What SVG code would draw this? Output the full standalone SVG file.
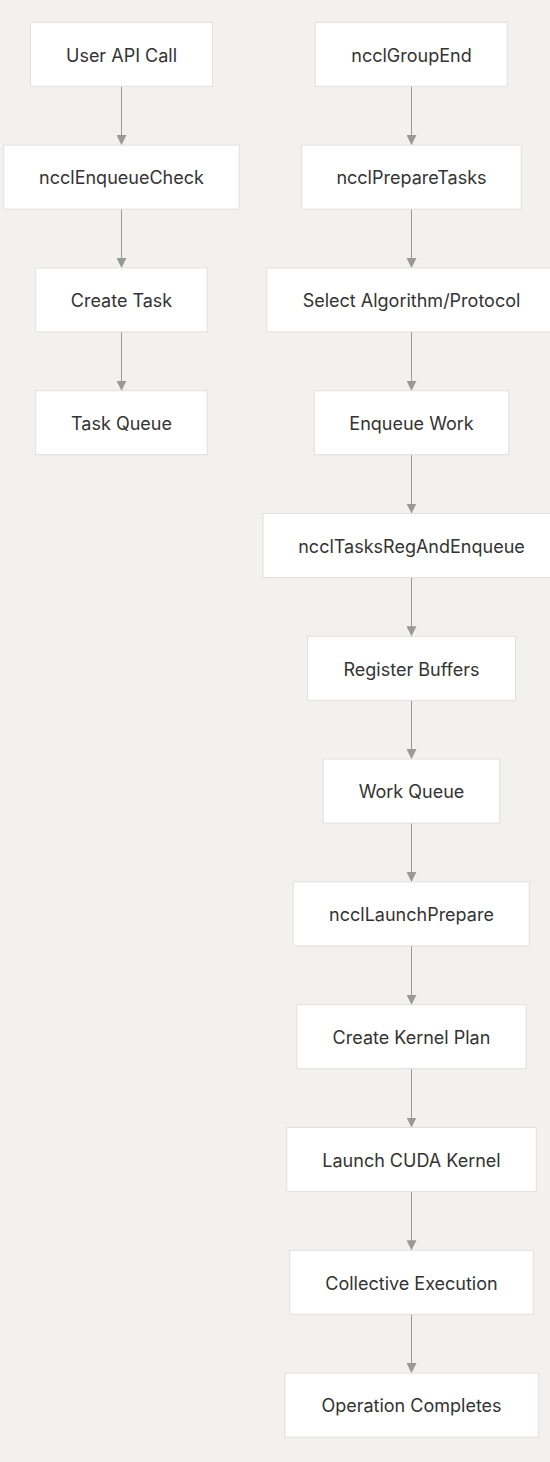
<svg xmlns="http://www.w3.org/2000/svg" width="550" height="1462" viewBox="0 0 550 1462">
<defs>
<marker id="arr" viewBox="0 0 10 10" refX="10" refY="5" markerWidth="10" markerHeight="10" markerUnits="userSpaceOnUse" orient="auto">
<path d="M0,0 L10,5 L0,10 z" fill="#999"/>
</marker>
<style>
.n rect{fill:#fff;stroke:#e0e0e0;stroke-width:1}
.n text{font-family:Inter,"Noto Sans","Liberation Sans",sans-serif;font-size:18px;font-weight:400;fill:#333;text-anchor:middle;dominant-baseline:central}
.e line{stroke:#999;stroke-width:1;marker-end:url(#arr)}
</style>
</defs>
<rect width="550" height="1462" fill="#f2f1ef"/>
<g class="e" id="connectors">
<line x1="121.5" y1="86.3" x2="121.5" y2="145.1"/>
<line x1="121.5" y1="209.1" x2="121.5" y2="267.9"/>
<line x1="121.5" y1="331.9" x2="121.5" y2="390.7"/>
<line x1="411.5" y1="86.3" x2="411.5" y2="145.1"/>
<line x1="411.5" y1="209.1" x2="411.5" y2="267.9"/>
<line x1="411.5" y1="331.9" x2="411.5" y2="390.7"/>
<line x1="411.5" y1="454.7" x2="411.5" y2="513.5"/>
<line x1="411.5" y1="577.5" x2="411.5" y2="636.3"/>
<line x1="411.5" y1="700.3" x2="411.5" y2="759.1"/>
<line x1="411.5" y1="823.1" x2="411.5" y2="881.9"/>
<line x1="411.5" y1="945.9" x2="411.5" y2="1004.7"/>
<line x1="411.5" y1="1068.7" x2="411.5" y2="1127.5"/>
<line x1="411.5" y1="1191.5" x2="411.5" y2="1250.3"/>
<line x1="411.5" y1="1314.3" x2="411.5" y2="1373.1"/>
</g>
<g class="n" id="userApiCall"><rect x="30.5" y="22.3" width="182" height="64"/><text x="121.5" y="55">User API Call</text></g>
<g class="n" id="ncclEnqueueCheck"><rect x="3.7" y="145.1" width="235.6" height="64"/><text x="121.5" y="177.8">ncclEnqueueCheck</text></g>
<g class="n" id="createTask"><rect x="35.7" y="267.9" width="171.6" height="64"/><text x="121.5" y="300.6">Create Task</text></g>
<g class="n" id="taskQueue"><rect x="35.7" y="390.7" width="171.6" height="64"/><text x="121.5" y="423.4">Task Queue</text></g>
<g class="n" id="ncclGroupEnd"><rect x="315.3" y="22.3" width="192" height="64"/><text x="411.5" y="55">ncclGroupEnd</text></g>
<g class="n" id="ncclPrepareTasks"><rect x="301.7" y="145.1" width="219.6" height="64"/><text x="411.5" y="177.8">ncclPrepareTasks</text></g>
<g class="n" id="selectAlgo"><rect x="266.7" y="267.9" width="289" height="64"/><text x="411.5" y="300.6">Select Algorithm/Protocol</text></g>
<g class="n" id="enqueueWork"><rect x="314.3" y="390.7" width="194.4" height="64"/><text x="411.5" y="423.4">Enqueue Work</text></g>
<g class="n" id="ncclTasksRegAndEnqueue"><rect x="263" y="513.5" width="297" height="64"/><text x="411.5" y="546.2">ncclTasksRegAndEnqueue</text></g>
<g class="n" id="registerBuffers"><rect x="307.5" y="636.3" width="208" height="64"/><text x="411.5" y="669">Register Buffers</text></g>
<g class="n" id="workQueue"><rect x="323.3" y="759.1" width="176.4" height="64"/><text x="411.5" y="791.8">Work Queue</text></g>
<g class="n" id="ncclLaunchPrepare"><rect x="293.3" y="881.9" width="236" height="64"/><text x="411.5" y="914.6">ncclLaunchPrepare</text></g>
<g class="n" id="createKernelPlan"><rect x="296.7" y="1004.7" width="229.3" height="64"/><text x="411.5" y="1037.4">Create Kernel Plan</text></g>
<g class="n" id="launchCudaKernel"><rect x="286.7" y="1127.5" width="249.6" height="64"/><text x="411.5" y="1160.2">Launch CUDA Kernel</text></g>
<g class="n" id="collectiveExecution"><rect x="289.7" y="1250.3" width="243.6" height="64"/><text x="411.5" y="1283">Collective Execution</text></g>
<g class="n" id="operationCompletes"><rect x="285" y="1373.1" width="253.3" height="64"/><text x="411.5" y="1405.8">Operation Completes</text></g>
</svg>
